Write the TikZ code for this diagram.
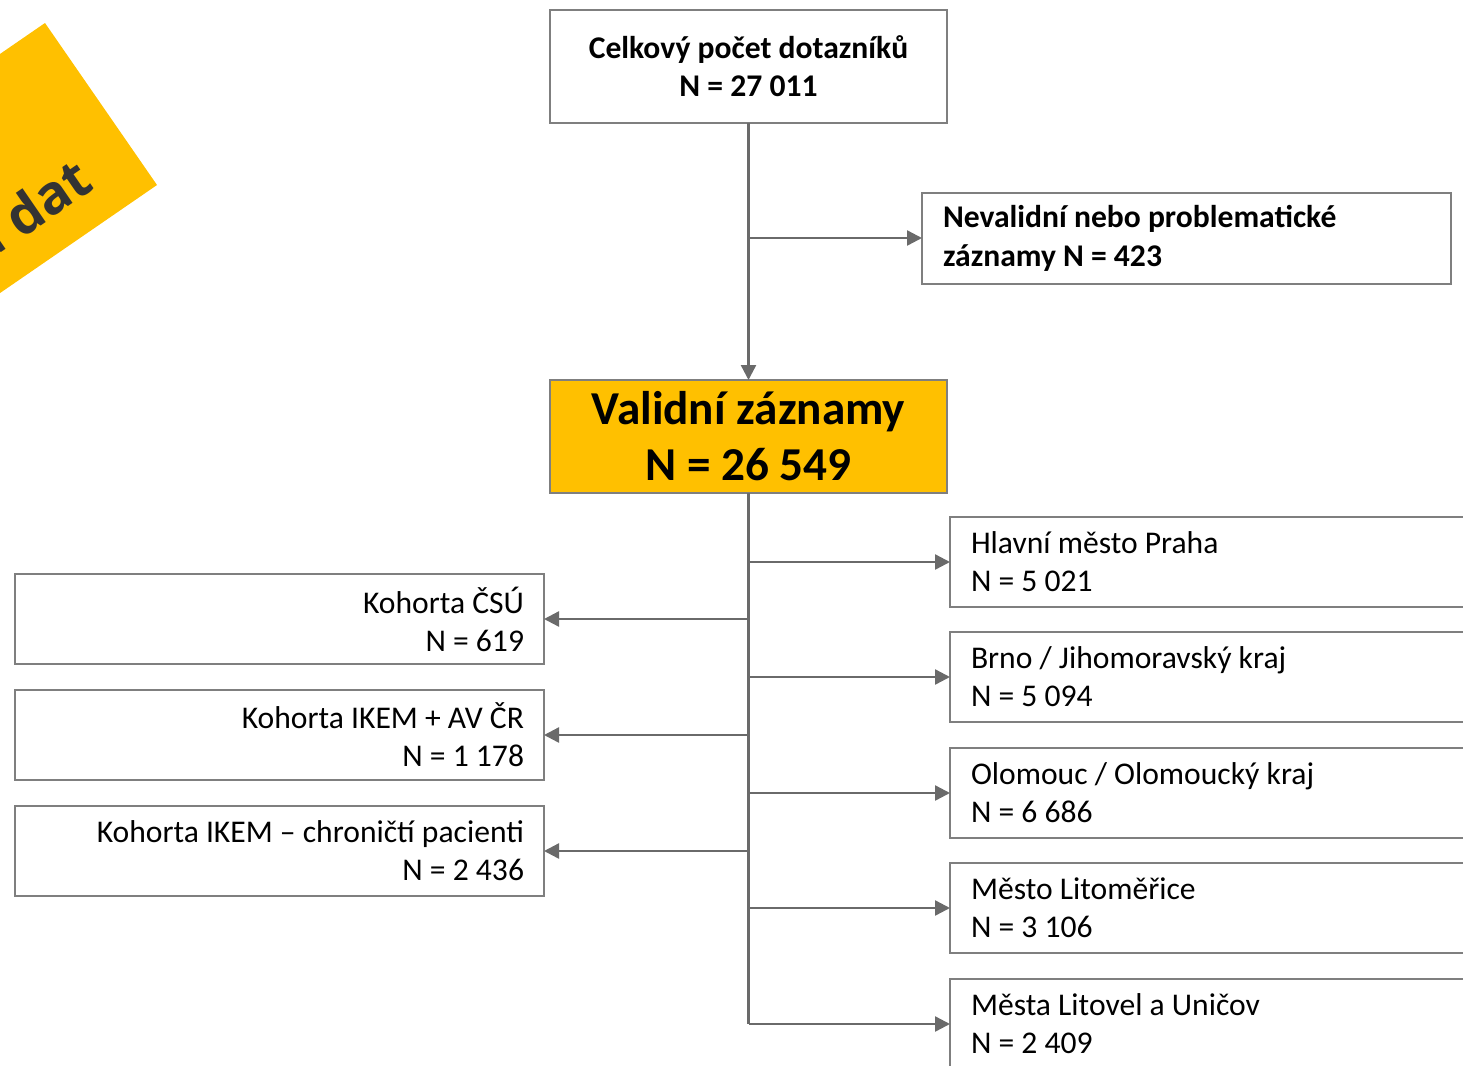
\documentclass[tikz,border=0pt]{standalone}
\usepackage{fontspec}
\setmainfont{Carlito}
\newfontfamily\bannerfont{Open Sans}
\usetikzlibrary{arrows.meta}
\definecolor{gold}{HTML}{FFC000}
\definecolor{lnc}{HTML}{6A6A6A}
\definecolor{bdc}{HTML}{7F7F7F}
\definecolor{bantext}{HTML}{333333}
\begin{document}
\begin{tikzpicture}[x=0.5pt,y=-0.5pt,
  box/.style={draw=bdc, line width=1pt, inner ysep=0pt, outer sep=0pt, minimum height=45pt,
    font=\fontsize{15.8pt}{19pt}\selectfont},
  rbox/.style={box, inner xsep=10.5pt, text width=244pt, align=flush left},
  lbox/.style={box, inner xsep=10pt, text width=244.5pt, align=flush right},
  cbox/.style={box, minimum width=198.5pt, minimum height=56.5pt, align=flush center},
  arr/.style={draw=lnc, line width=1.2pt, -{Triangle[length=7.5pt,width=7.5pt]}},
  trunk/.style={draw=lnc, line width=1.2pt}]
\useasboundingbox (0,0) rectangle (1463,1066);
\clip (0,0) rectangle (1463,1066);
% banner
\fill[gold] (45,23) -- (157,185) -- (-90,355) -- (-202,193) -- cycle;
\node[anchor=base east, rotate=34.5, inner sep=0pt, text=bantext,
  font=\bannerfont\bfseries\fontsize{27pt}{31pt}\selectfont] (ban) at (96,188) {a dat};
% main boxes
\node[cbox, font=\bfseries\fontsize{15.8pt}{19pt}\selectfont] (top) at (748.5,66.5)
  {Celkový počet dotazníků\\N = 27 011};
\node[rbox, inner xsep=10.5pt, text width=243.5pt, minimum height=45.5pt,
  font=\bfseries\fontsize{15.8pt}{19.5pt}\selectfont] (nev) at (1186.5,238.5)
  {Nevalidní nebo problematické\\záznamy N = 423};
\node[cbox, fill=gold, font=\bfseries\fontsize{23.6pt}{28pt}\selectfont] (val) at (748.5,436.5)
  {Validní záznamy\\N = 26 549};
% right boxes
\node[rbox] (r1) at (1215,562) {Hlavní město Praha\\N = 5 021};
\node[rbox] (r2) at (1215,677) {Brno / Jihomoravský kraj\\N = 5 094};
\node[rbox] (r3) at (1215,793) {Olomouc / Olomoucký kraj\\N = 6 686};
\node[rbox] (r4) at (1215,908) {Město Litoměřice\\N = 3 106};
\node[rbox] (r5) at (1215,1024) {Města Litovel a Uničov\\N = 2 409};
% left boxes
\node[lbox] (l1) at (279.5,619) {Kohorta ČSÚ\\N = 619};
\node[lbox] (l2) at (279.5,735) {Kohorta IKEM + AV ČR\\N = 1 178};
\node[lbox] (l3) at (279.5,851) {Kohorta IKEM – chroničtí pacienti\\N = 2 436};
% connectors
\coordinate (j0) at (748.5,238);
\draw[arr] (top.south) -- (val.north);
\draw[arr] (j0) -- (j0 -| nev.west);
\coordinate (bot) at (748.5,1024);
\draw[trunk] (val.south) -- (bot);
\foreach \n in {r1,r2,r3,r4,r5}{\draw[arr] (\n.west -| val.south) -- (\n.west);}
\foreach \n in {l1,l2,l3}{\draw[arr] (\n.east -| val.south) -- (\n.east);}
\end{tikzpicture}
\end{document}
